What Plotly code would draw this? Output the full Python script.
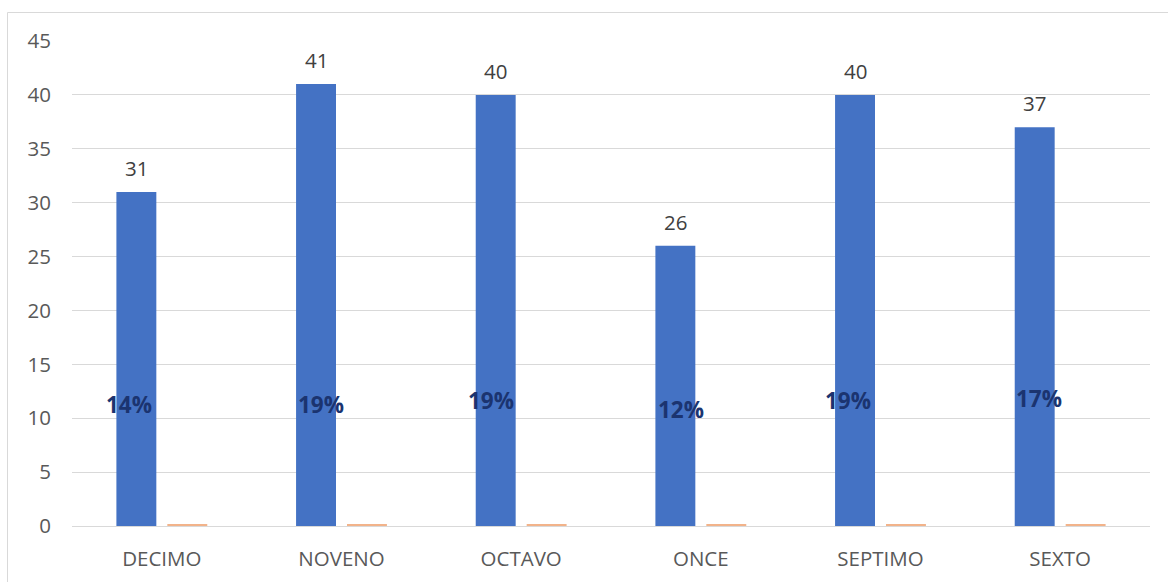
import plotly.graph_objects as go

categories = ["DECIMO", "NOVENO", "OCTAVO", "ONCE", "SEPTIMO", "SEXTO"]
students = [31, 41, 40, 26, 40, 37]
shares = [0.14, 0.19, 0.19, 0.12, 0.19, 0.17]
y_ticks = [0, 5, 10, 15, 20, 25, 30, 35, 40, 45]

# label placement styling (pixel x-shift from category centre, data-unit height)
pct_dx = [-33, -21, -30, -20, -33, -21]
pct_y = [11.25, 11.3, 11.65, 10.8, 11.6, 11.8]

BLUE = "#4472C4"
ORANGE = "#F2B38A"
GRID = "#D9D9D9"
FONT = "Open Sans"

fig = go.Figure()
fig.add_trace(go.Bar(x=categories, y=students, marker_color=BLUE, name="Estudiantes",
                     marker_line_width=0))
fig.add_trace(go.Bar(x=categories, y=shares, marker_color=ORANGE, name="%",
                     marker_line_width=0))

annotations = []
for c, v in zip(categories, students):
    annotations.append(dict(x=c, y=v, xref="x", yref="y", text=str(v), showarrow=False,
                            xshift=-25.5, yshift=24, yanchor="middle",
                            font=dict(family=FONT, size=20.5, color="#404040")))
for c, s, dx, yy in zip(categories, shares, pct_dx, pct_y):
    annotations.append(dict(x=c, y=yy, xref="x", yref="y", text=f"<b>{s:.0%}</b>",
                            showarrow=False, xshift=dx, yanchor="middle",
                            font=dict(family=FONT, size=22.5, color="#1B3470")))

L, R, T, B = 72, 18, 41, 56
W, H = 1168, 582
pw = W - L - R
ph = H - T - B

fig.update_layout(
    width=W, height=H,
    margin=dict(l=L, r=R, t=T, b=B, autoexpand=False),
    paper_bgcolor="white", plot_bgcolor="white",
    barmode="group", bargap=0.433, bargroupgap=0.216,
    showlegend=False,
    font=dict(family=FONT, size=20.5, color="#595959"),
    annotations=annotations,
    shapes=[dict(type="rect", xref="paper", yref="paper",
                 x0=(7.5 - L) / pw, x1=(W + 5 - L) / pw,
                 y0=-(B + 5) / ph, y1=1 + (T - 12.5) / ph,
                 line=dict(color=GRID, width=1), fillcolor="rgba(0,0,0,0)", layer="below")],
)
fig.update_yaxes(range=[0, 45], tickvals=y_ticks, showgrid=True, gridcolor=GRID, gridwidth=1,
                 zeroline=False, showline=False, ticks="", ticklabelstandoff=20,
                 automargin=False,
                 tickfont=dict(family=FONT, size=20.5, color="#595959"))
fig.update_xaxes(showgrid=False, showline=True, linecolor=GRID, linewidth=1, ticks="",
                 ticklabelstandoff=14, automargin=False,
                 tickfont=dict(family=FONT, size=20.5, color="#595959"))

fig.write_html("out.html", config={"displayModeBar": False},
               post_script="document.body.style.margin='0';document.body.style.overflow='hidden';")
